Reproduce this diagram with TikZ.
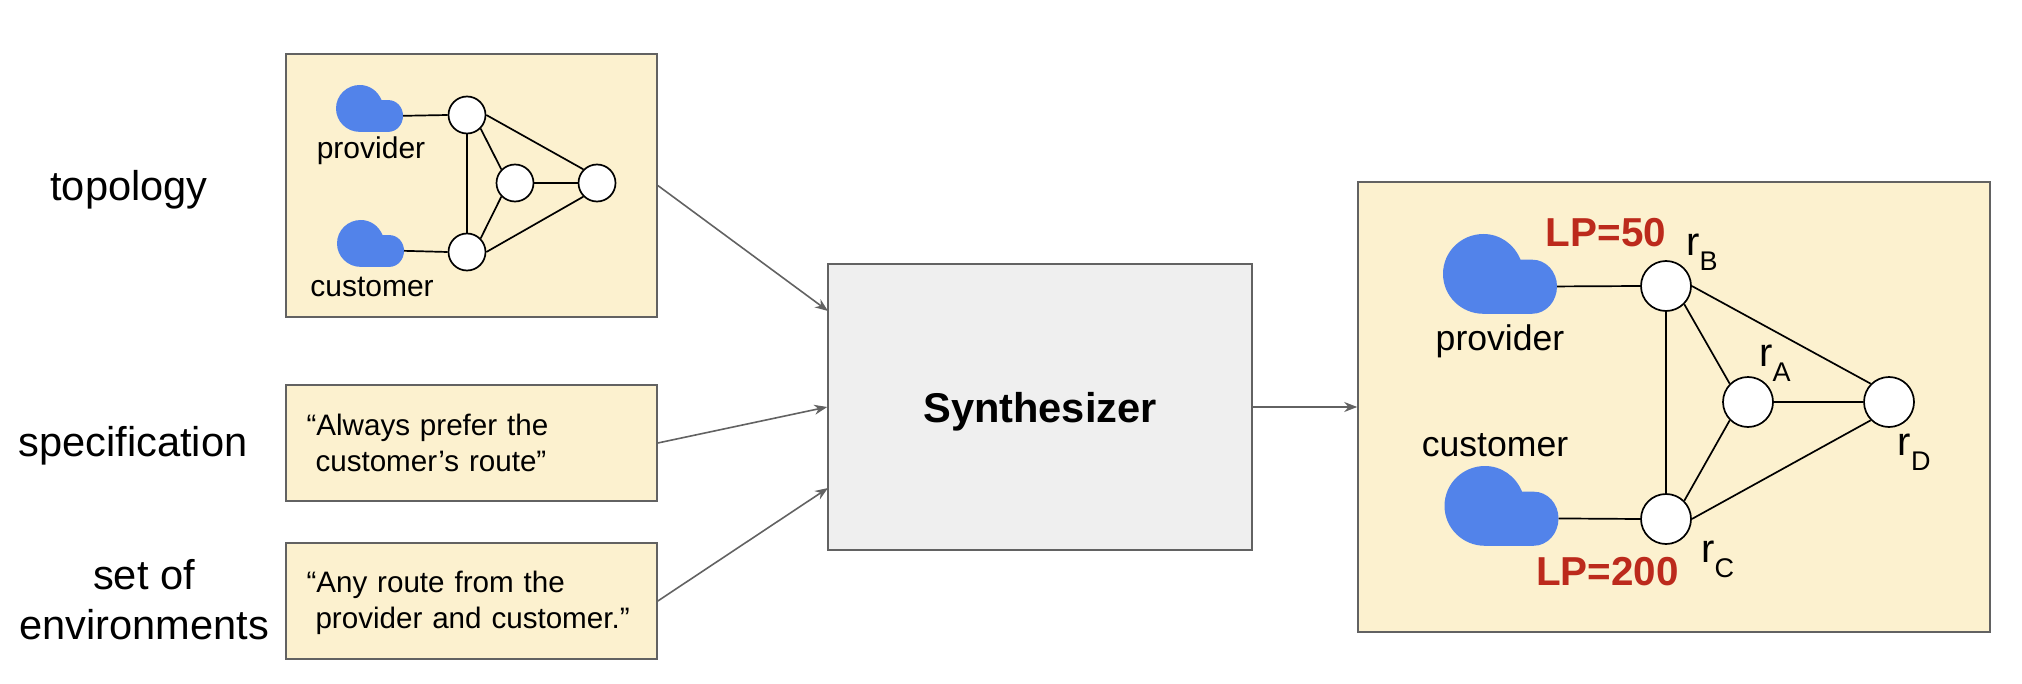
\documentclass[tikz,border=0pt]{standalone}
\usepackage{fontspec}
\setmainfont{Liberation Sans}
\usetikzlibrary{
    arrows.meta,
    positioning
}
\definecolor{boxyellow}{HTML}{FCF1CF}
\definecolor{boxgray}{HTML}{EFEFEF}
\definecolor{edgegray}{HTML}{626262}
\definecolor{cloudblue}{HTML}{5283EA}
\definecolor{lpred}{HTML}{BC2A1C}
\tikzset{
    % Boxes
    frame style/.style={draw=edgegray,line width=.8pt,inner sep=0pt},
    yellow box/.style={frame style,fill=boxyellow},
    text box/.style={yellow box,minimum width=185.5pt,minimum height=58pt},
    box text/.style={text width=165pt,align=left,inner sep=0pt,font=\fontsize{14.8}{18}\selectfont},
    %
    % Router graph
    router/.style={circle,draw=black,fill=white,line width=.85pt,inner sep=0pt},
    small router/.style={router,minimum size=18.5pt},
    big router/.style={router,minimum size=25pt},
    link/.style={black,line width=.85pt},
    %
    % Labels
    side label/.style={font=\fontsize{20.8}{25}\selectfont,align=center,inner sep=0pt},
    small label/.style={font=\fontsize{15}{18}\selectfont,inner sep=0pt},
    big label/.style={font=\fontsize{17.8}{21}\selectfont,inner sep=0pt},
    lp label/.style={font=\fontsize{20.2}{24}\selectfont\bfseries,text=lpred,inner sep=0pt},
    router label/.style={font=\fontsize{20}{24}\selectfont,anchor=base west,inner sep=0pt},
    %
    % Arrows
    arrow tip/.tip={Stealth[length=6.5pt,width=5pt]},
    arr/.style={-{arrow tip},draw=edgegray,line width=.8pt},
    %
    % Cloud, drawn in a 200 x 140 box
    pics/netcloud/.style={code={
        \fill[cloudblue] (71,0) .. controls (100,0) and (125,18) .. (136,45) -- (156,45)
            .. controls (181,45) and (200,66) .. (200,92)
            .. controls (200,118) and (181,140) .. (156,140) -- (71,140)
            .. controls (32,140) and (0,109) .. (0,70)
            .. controls (0,31) and (32,0) .. (71,0) -- cycle;
        \coordinate (-port) at (200,92);
    }}
}
\newcommand{\rname}[1]{r\raisebox{-7.5pt}{\fontsize{13.5}{16}\selectfont #1}}

\begin{document}
\begin{tikzpicture}[x=.5pt,y=-.5pt]
    \useasboundingbox (0,0) rectangle (2022,684);
    % Left column
    \node[side label] (topolabel) at (129,190) {topology};
    \node[side label] (speclabel) at (133,446) {specification};
    \node[side label] (envlabel) at (144,600) {set of\\environments};
    % Inputs
    \node[yellow box,minimum width=185.5pt,minimum height=131.5pt] (topobox) at (471.5,185.5) {};
    \node[text box] (specbox) at (471.5,443) {};
    \node[box text] (spectext) at (471.5,443) {“Always prefer the\\\hspace*{4.5pt}customer’s route”};
    \node[text box] (envbox) at (471.5,601) {};
    \node[box text] (envtext) at (471.5,603) {“Any route from the\\\hspace*{4.5pt}provider and customer.”};
    % Small graph
    \pic[scale=.335] (smallprovider) at (336,85) {netcloud};
    \pic[scale=.335] (smallcustomer) at (337,220) {netcloud};
    \node[small label] (smallprovlabel) at (371,151) {provider};
    \node[small label] (smallcustlabel) at (372,287) {customer};
    \node[small router] (sb) at (467,115) {};
    \node[small router] (sa) at (515,183) {};
    \node[small router] (sd) at (597,183) {};
    \node[small router] (sc) at (467,252) {};
    \draw[link] (smallprovider-port) -- (sb.west);
    \draw[link] (smallcustomer-port) -- (sc.west);
    \foreach \from/\to in {sb.south/sc.north,sb.south east/sa.north west,sb.east/sd.north west,sa.east/sd.west,sa.south west/sc.north east,sd.south west/sc.east}{
        \draw[link] (\from) -- (\to);
    }
    % Synthesizer
    \node[frame style,fill=boxgray,minimum width=212pt,minimum height=143pt] (synth) at (1040,407) {};
    \node[inner sep=0pt,font=\fontsize{20.8}{25}\selectfont\bfseries] (synthlabel) at (1040,412) {Synthesizer};
    \coordinate (synthtop) at (828,311);
    \coordinate (synthlow) at (828,488);
    \draw[arr] (topobox.east) -- (synthtop);
    \draw[arr] (specbox.east) -- (synth.west);
    \draw[arr] (envbox.east) -- (synthlow);
    % Result
    \node[yellow box,minimum width=316pt,minimum height=225pt] (resultbox) at (1674,407) {};
    \draw[arr] (synth.east) -- (resultbox.west);
    \pic[scale=.57] (bigprovider) at (1443,234) {netcloud};
    \pic[scale=.57] (bigcustomer) at (1444.5,466) {netcloud};
    \node[big label] (bigprovlabel) at (1500,341) {provider};
    \node[big label] (bigcustlabel) at (1495,445) {customer};
    \node[big router] (rb) at (1666,286) {};
    \node[big router] (ra) at (1748,402) {};
    \node[big router] (rd) at (1889,402) {};
    \node[big router] (rc) at (1666,519) {};
    \draw[link] (bigprovider-port) -- (rb.west);
    \draw[link] (bigcustomer-port) -- (rc.west);
    \foreach \from/\to in {rb.south/rc.north,rb.south east/ra.north west,rb.east/rd.north west,ra.east/rd.west,ra.south west/rc.north east,rd.south west/rc.east}{
        \draw[link] (\from) -- (\to);
    }
    \node[lp label] (lpb) at (1606,233) {LP=50};
    \node[lp label] (lpc) at (1607.5,572) {LP=200};
    \node[router label] (rblabel) at (1686,256) {\rname{B}};
    \node[router label] (ralabel) at (1759,366) {\rname{A}};
    \node[router label] (rdlabel) at (1897.5,455) {\rname{D}};
    \node[router label] (rclabel) at (1701,562) {\rname{C}};
\end{tikzpicture}
\end{document}
